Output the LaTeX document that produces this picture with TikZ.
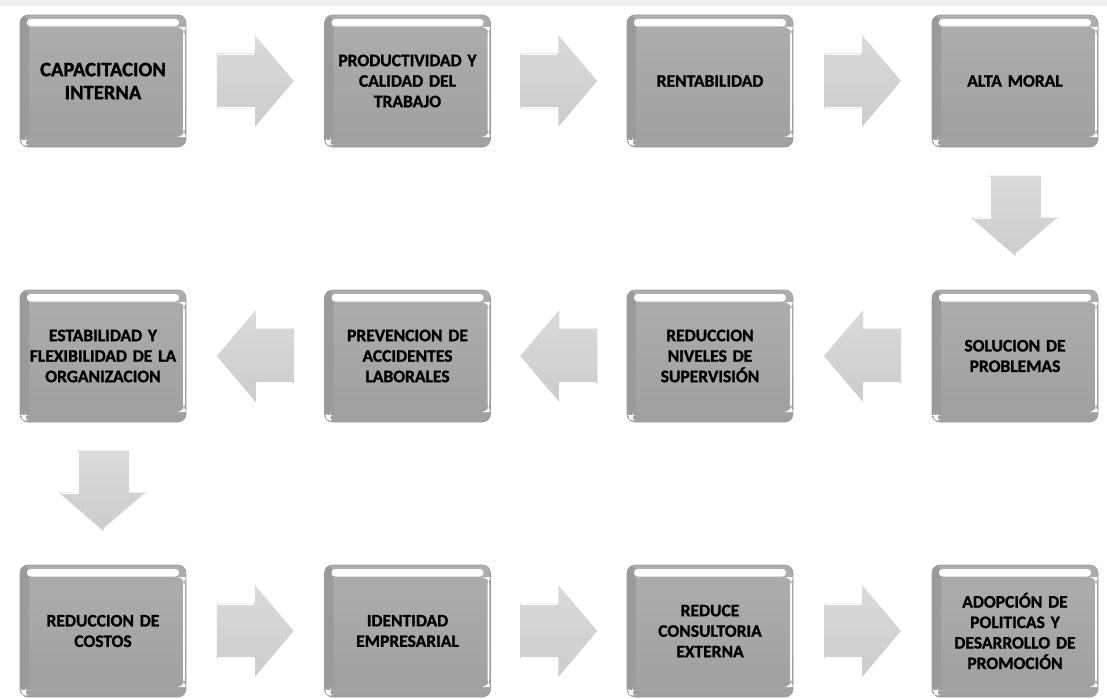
\documentclass[tikz,border=0pt]{standalone}
\usepackage{fontspec}
\setmainfont{Carlito}[BoldFeatures={FakeBold=1.3}]
\usetikzlibrary{calc}
\definecolor{boxmid}{HTML}{A8A8A8}
\definecolor{boxtop}{HTML}{ADADAD}
\definecolor{boxbot}{HTML}{A0A0A0}
\definecolor{boxleft}{HTML}{9A9A9A}
\definecolor{boxline}{HTML}{9A9A9A}
\definecolor{arrtop}{HTML}{DADADA}
\definecolor{arrbot}{HTML}{CCCCCC}
\definecolor{topband}{HTML}{EFEFEF}
\tikzset{
  stagebox/.style={rounded corners=8pt, minimum width=166pt, minimum height=132pt,
    text width=156pt, align=center, inner sep=0pt,
    top color=boxtop, bottom color=boxbot, draw=boxline, line width=0.6pt,
    font=\bfseries\fontsize{17.5}{20.5}\selectfont,
    path picture={
      \shade[left color=boxleft, right color=boxmid, shading angle=90]
        ([xshift=-1pt]path picture bounding box.north west) rectangle
        ([xshift=9pt]path picture bounding box.south west);
      \fill[white, rounded corners=3.5pt]
        ([xshift=7pt,yshift=-4pt]path picture bounding box.north west) rectangle
        ([xshift=-7pt,yshift=-11.5pt]path picture bounding box.north east);
      \fill[white]
        ([xshift=-3pt,yshift=-12pt]path picture bounding box.north east) rectangle
        ([xshift=-1.2pt,yshift=10pt]path picture bounding box.south east);
      \fill[white]
        ([xshift=1.5pt,yshift=2pt]path picture bounding box.south west) rectangle
        ([xshift=6pt,yshift=7pt]path picture bounding box.south west);
    }},
  bigtext/.style={font=\bfseries\fontsize{20.5}{23}\selectfont},
  arrowfill/.style={top color=arrtop, bottom color=arrbot, draw=none},
  arrowhi/.style={white, line width=1.6pt, line join=round},
  rarrow/.pic={
    \path[arrowfill] (-38.5,-27.5) -- (-0.5,-27.5) -- (-0.5,-46) -- (38.5,0) -- (-0.5,46) -- (-0.5,27.5) -- (-38.5,27.5) -- cycle;
    \draw[arrowhi] (-37.5,26.7) -- (-1.3,26.7) -- (-1.3,44);
    \draw[white, line width=1pt] (-37.5,-26.7) -- (-1.3,-26.7);
  },
  larrow/.pic={
    \path[arrowfill] (38.5,-27.5) -- (0.5,-27.5) -- (0.5,-46) -- (-38.5,0) -- (0.5,46) -- (0.5,27.5) -- (38.5,27.5) -- cycle;
    \draw[arrowhi] (37.5,26.7) -- (1.3,26.7) -- (1.3,44);
  },
  darrow/.pic={
    \path[arrowfill] (-26,-40) -- (26,-40) -- (26,2) -- (44,2) -- (0,40) -- (-44,2) -- (-26,2) -- cycle;
    \draw[arrowhi] (-25.2,-39) -- (-25.2,2.8) -- (-41,2.8);
    \draw[arrowhi] (1,38.5) -- (42,3.5);
  }
}
\begin{document}
\begin{tikzpicture}[x=1pt,y=-1pt]
\useasboundingbox (0,0) rectangle (1107,698);
\fill[topband] (0,0) rectangle (1107,6);
% row 1
\node[stagebox, bigtext] (a1) at (103,81) {CAPACITACION\\INTERNA};
\node[stagebox] (a2) at (407.5,81) {PRODUCTIVIDAD Y\\CALIDAD DEL\\TRABAJO};
\node[stagebox] (a3) at (710,81) {RENTABILIDAD};
\node[stagebox] (a4) at (1015,81) {ALTA MORAL};
% row 2
\node[stagebox] (b4) at (1015,356) {SOLUCION DE\\PROBLEMAS};
\node[stagebox] (b3) at (710,356) {REDUCCION\\NIVELES DE\\SUPERVISIÓN};
\node[stagebox] (b2) at (407.5,356) {PREVENCION DE\\ACCIDENTES\\LABORALES};
\node[stagebox] (b1) at (103,356) {ESTABILIDAD Y\\FLEXIBILIDAD DE LA\\ORGANIZACION};
% row 3
\node[stagebox] (c1) at (103,631) {REDUCCION DE\\COSTOS};
\node[stagebox] (c2) at (407.5,631) {IDENTIDAD\\EMPRESARIAL};
\node[stagebox] (c3) at (710,631) {REDUCE\\CONSULTORIA\\EXTERNA};
\node[stagebox] (c4) at (1015,631) {ADOPCIÓN DE\\POLITICAS Y\\DESARROLLO DE\\PROMOCIÓN};
% arrows
\pic at ($(a1.east)!0.5!(a2.west)$) {rarrow};
\pic at ($(a2.east)!0.5!(a3.west)$) {rarrow};
\pic at ($(a3.east)!0.5!(a4.west)$) {rarrow};
\pic at ($(a4.south)!0.48!(b4.north)$) {darrow};
\pic at ($(b4.west)!0.5!(b3.east)$) {larrow};
\pic at ($(b3.west)!0.5!(b2.east)$) {larrow};
\pic at ($(b2.west)!0.5!(b1.east)$) {larrow};
\pic at ($(b1.south)!0.48!(c1.north)$) {darrow};
\pic at ($(c1.east)!0.5!(c2.west)$) {rarrow};
\pic at ($(c2.east)!0.5!(c3.west)$) {rarrow};
\pic at ($(c3.east)!0.5!(c4.west)$) {rarrow};
\end{tikzpicture}
\end{document}
